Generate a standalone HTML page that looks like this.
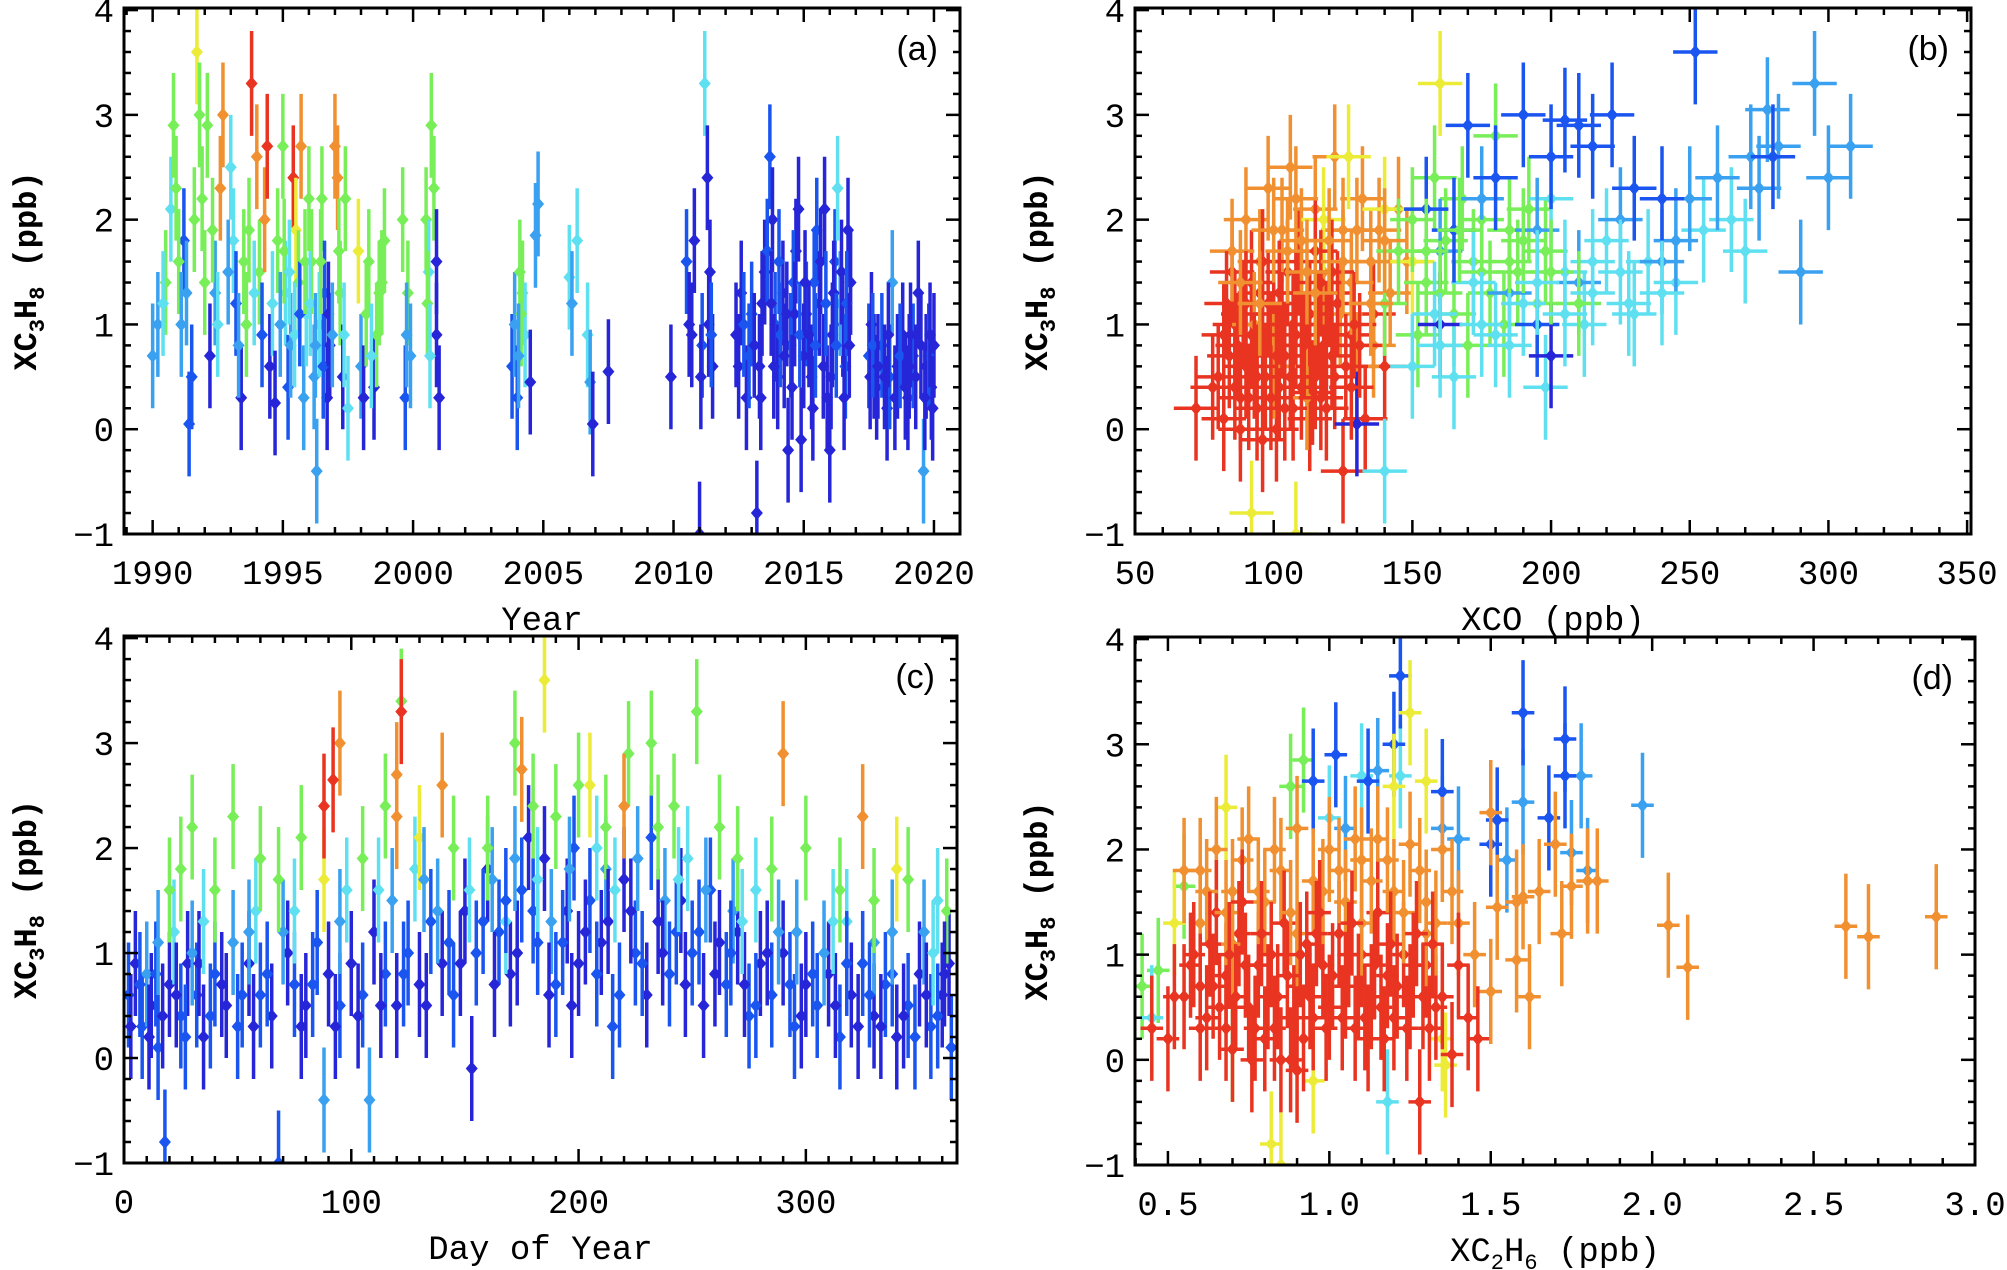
<!DOCTYPE html>
<html><head><meta charset="utf-8"><style>
html,body{margin:0;padding:0;background:#fff;}
svg{display:block;}
.tk{font-family:"Liberation Mono",monospace;font-size:34px;fill:#000;}
.tt{font-family:"Liberation Mono",monospace;font-size:34px;fill:#000;}
.yt{font-family:"Liberation Mono",monospace;font-size:32px;font-weight:bold;fill:#000;}
.pl{font-family:"Liberation Sans",sans-serif;font-size:34px;fill:#000;}
</style></head><body>
<svg id="fig" width="2007" height="1270" viewBox="0 0 2007 1270" xmlns="http://www.w3.org/2000/svg"></svg>
<script>
const palette=["#2626d8","#1a55f0","#3aa0f0","#5ee0f0","#78ee58","#ecec38","#f09030","#e83420"];
const aPts=[[1990.0,0.7,2],[1990.2,1.0,2],[1990.5,1.4,4],[1990.7,2.1,3],[1990.8,2.9,4],[1990.9,2.3,4],[1991.2,1.8,1],[1991.3,1.3,2],[1991.4,0.05,1],[1991.5,0.5,1],[1991.6,2.0,4],[1991.7,3.6,5],[1991.8,3.0,4],[1991.9,2.2,4],[1992.0,1.4,4],[1992.1,2.9,4],[1992.2,0.7,0],[1992.4,1.3,2],[1992.6,2.3,6],[1992.7,3.0,6],[1993.0,2.5,3],[1993.1,1.8,3],[1993.2,1.2,1],[1993.4,0.3,0],[1993.5,1.6,4],[1993.6,1.0,4],[1993.8,3.3,7],[1994.0,2.6,6],[1994.1,1.5,4],[1994.2,0.9,1],[1994.3,2.0,6],[1994.4,2.7,7],[1994.5,0.6,0],[1994.6,1.2,3],[1994.7,0.25,0],[1994.8,1.8,4],[1995.0,2.7,4],[1995.1,1.3,3],[1995.2,0.4,1],[1995.3,0.8,2],[1995.4,2.4,7],[1995.5,1.9,5],[1995.6,1.4,4],[1995.7,2.7,6],[1995.8,0.3,2],[1995.9,1.1,3],[1996.0,2.2,4],[1996.1,1.6,4],[1996.2,0.5,2],[1996.3,-0.4,2],[1996.4,1.0,3],[1996.5,2.2,4],[1996.6,1.3,1],[1996.7,0.3,0],[1996.8,0.8,0],[1997.0,2.7,6],[1997.1,2.4,6],[1997.2,1.3,4],[1997.3,0.5,0],[1997.4,2.2,4],[1997.5,0.2,3],[1997.9,1.7,5],[1998.0,0.6,2],[1998.1,0.3,0],[1998.2,1.1,4],[1998.3,1.6,4],[1998.5,0.4,0],[1998.6,0.9,4],[1998.7,1.3,4],[1998.9,1.8,4],[1999.6,2.0,4],[1999.7,0.3,1],[1999.8,1.3,4],[1999.9,0.7,2],[2000.5,2.0,4],[2000.6,1.5,3],[2000.7,2.9,4],[2000.8,2.3,4],[2000.9,1.6,0],[2001.0,0.3,0],[2000.9,0.9,0],[2003.8,0.6,1],[2003.9,1.0,2],[2004.0,0.3,1],[2004.1,1.5,4],[2004.2,1.3,4],[2004.3,0.9,3],[2004.5,0.45,0],[2004.7,1.85,2],[2004.8,2.15,2],[2006.0,1.45,3],[2006.1,1.2,2],[2006.3,1.8,3],[2006.7,0.9,3],[2006.8,0.45,2],[2006.9,0.05,0],[2007.5,0.55,0],[2009.9,0.5,0],[2010.5,1.6,1],[2010.6,1.0,0],[2010.8,1.8,0],[2011.0,-1.0,0],[2011.1,0.8,1],[2011.2,3.3,3],[2011.3,2.4,0],[2011.4,1.5,0],[2011.5,0.6,0],[2012.4,0.9,0],[2012.6,1.3,0],[2012.8,0.3,0],[2013.0,1.1,1],[2013.2,-0.8,0],[2013.3,0.6,0],[2013.5,1.5,0],[2013.7,2.6,1],[2013.8,2.0,0],[2013.9,1.0,1],[2014.0,0.5,0],[2014.2,1.3,0],[2014.4,-0.2,0],[2014.5,0.8,1],[2014.7,1.7,0],[2014.8,2.1,0],[2014.9,-0.1,0],[2015.1,1.1,1],[2015.3,0.5,0],[2015.5,1.9,1],[2015.6,1.2,0],[2015.8,2.1,0],[2015.9,0.3,0],[2016.0,-0.2,0],[2016.2,1.6,1],[2016.3,2.3,3],[2016.5,1.0,0],[2016.6,0.6,1],[2016.7,1.9,0],[2016.8,1.4,0],[2017.5,0.7,1],[2017.6,1.0,0],[2017.8,0.4,0],[2018.0,0.8,1],[2018.2,0.2,0],[2018.4,1.4,2],[2018.6,0.6,0],[2018.8,0.9,0],[2019.0,0.3,0],[2019.2,0.7,1],[2019.4,1.3,0],[2019.6,-0.4,2],[2019.7,0.6,0],[2019.9,0.4,0],[2020.0,0.8,0],[2012.9,0.7,1],[2013.4,1.2,0],[2014.1,0.9,1],[2014.6,1.4,1],[2015.0,0.7,0],[2015.4,1.4,1],[2016.1,0.9,0],[2016.4,1.2,2],[2017.7,0.6,0],[2018.3,0.5,1],[2019.1,0.9,0],[2019.8,0.7,1]];
const aPtsExtra=[[1990.4,1.2,3],[1991.0,1.6,4],[1991.1,1.0,2],[1992.3,1.9,4],[1992.5,1.0,3],[1992.9,1.5,2],[1993.3,0.8,2],[1993.7,1.9,4],[1993.9,1.3,3],[1994.9,1.0,2],[1995.05,1.7,4],[1995.25,1.5,3],[1995.45,0.9,3],[1995.65,1.1,1],[1995.85,1.6,4],[1996.05,1.2,3],[1996.25,0.8,2],[1996.45,1.6,4],[1996.55,0.6,1],[1996.75,1.1,0],[1996.9,0.9,2],[1997.15,1.7,4],[1997.35,0.9,3],[1998.4,0.7,3],[1998.8,1.4,4],[1999.75,0.9,2],[2000.55,1.2,4],[2000.65,0.7,3],[2004.15,1.1,4],[2004.05,0.7,2],[2012.5,0.6,0],[2012.7,1.0,1],[2013.1,0.8,0],[2013.35,0.3,0],[2013.6,1.7,1],[2013.75,1.2,0],[2013.85,0.6,0],[2014.05,1.6,1],[2014.25,0.7,0],[2014.35,1.1,0],[2014.55,0.4,0],[2014.65,1.1,0],[2014.85,0.9,1],[2015.05,1.4,0],[2015.2,0.9,0],[2015.35,0.2,0],[2015.45,0.8,1],[2015.65,1.6,0],[2015.75,0.6,0],[2015.85,1.2,1],[2016.05,0.5,0],[2016.15,1.3,0],[2016.25,0.8,1],[2016.45,1.5,0],[2016.55,0.3,0],[2016.65,1.2,1],[2016.75,0.8,0],[2017.55,0.5,0],[2017.65,0.8,1],[2017.85,0.6,0],[2018.1,0.5,0],[2018.25,0.9,0],[2018.5,0.3,0],[2018.7,0.7,1],[2018.9,0.4,0],[2019.05,0.6,0],[2019.3,0.5,0],[2019.5,0.8,0],[2019.65,0.3,0],[2019.85,0.9,0],[2019.95,0.2,0],[2011.05,0.5,0],[2011.35,1.0,0],[2011.45,0.9,1],[2010.7,0.9,0]];
const bPts=[[72,0.2,7],[78,0.4,7],[82,0.1,7],[84,0.7,7],[86,1.0,7],[88,0.3,7],[90,0.6,7],[92,0.9,7],[94,0.2,7],[95,1.3,7],[97,0.5,7],[99,0.8,7],[100,1.1,7],[102,0.4,7],[104,0.7,7],[105,1.5,7],[107,0.2,7],[108,0.9,7],[110,1.2,7],[112,0.6,7],[114,0.35,7],[116,1.0,7],[118,0.8,7],[120,1.3,7],[122,0.5,7],[125,-0.4,7],[128,0.9,7],[133,0.1,7],[136,1.1,7],[140,0.6,7],[88,0.0,7],[92,1.4,7],[96,-0.1,7],[101,0.0,7],[109,1.6,7],[113,0.1,7],[85,1.5,7],[119,0.2,7],[85,1.7,6],[90,2.0,6],[95,1.6,6],[98,2.3,6],[103,1.9,6],[106,2.5,6],[110,1.8,6],[115,2.1,6],[118,1.5,6],[122,2.6,6],[125,1.9,6],[128,1.4,6],[132,2.2,6],[135,1.6,6],[138,1.9,6],[142,1.3,6],[145,2.1,6],[148,1.6,6],[100,0.6,6],[112,0.3,6],[124,1.1,6],[136,0.8,6],[93,1.0,6],[130,0.6,6],[92,-0.8,5],[108,-1.0,5],[118,2.0,5],[127,2.6,5],[140,2.1,5],[160,3.3,5],[150,1.6,5],[140,1.2,4],[145,1.7,4],[150,2.0,4],[155,1.4,4],[158,2.4,4],[162,1.8,4],[165,1.1,4],[168,2.2,4],[172,1.6,4],[175,2.0,4],[178,1.3,4],[180,2.8,4],[185,1.9,4],[188,1.5,4],[192,2.1,4],[195,1.2,4],[198,1.7,4],[152,0.9,4],[170,0.8,4],[183,1.0,4],[150,0.6,3],[158,1.1,3],[165,0.5,3],[172,1.4,3],[180,0.9,3],[190,1.2,3],[198,0.4,3],[205,1.5,3],[212,1.0,3],[220,1.8,3],[228,1.2,3],[235,1.6,3],[245,1.4,3],[255,1.9,3],[265,2.0,3],[270,1.7,3],[200,2.2,3],[215,1.6,3],[140,-0.4,3],[230,1.1,3],[160,1.7,2],[175,2.2,2],[185,1.3,2],[195,1.9,2],[210,1.4,2],[225,2.0,2],[240,1.6,2],[250,2.2,2],[260,2.4,2],[272,2.6,2],[278,3.05,2],[282,2.7,2],[290,1.5,2],[295,3.3,2],[300,2.4,2],[308,2.7,2],[275,2.3,2],[245,1.8,2],[155,2.1,1],[170,2.9,1],[190,3.0,1],[205,2.95,1],[210,2.9,1],[215,2.7,1],[222,3.0,1],[240,2.2,1],[252,3.6,1],[280,2.6,1],[200,2.6,1],[180,2.4,1],[165,1.9,1],[195,1.0,1],[230,2.3,1],[130,0.05,0],[200,0.7,0],[160,1.0,0]];
const bPtsExtra=[[80,0.5,7],[83,1.2,7],[87,0.8,7],[89,1.1,7],[91,0.3,7],[93,0.6,7],[96,0.9,7],[98,1.2,7],[101,0.7,7],[103,1.0,7],[106,0.5,7],[108,1.3,7],[111,0.8,7],[113,1.1,7],[115,0.5,7],[117,1.4,7],[119,0.9,7],[121,0.7,7],[123,1.2,7],[126,0.6,7],[129,1.0,7],[131,0.8,7],[96,1.6,7],[104,0.2,7],[90,1.2,7],[99,0.3,7],[110,0.4,7],[115,1.7,7],[82,0.9,7],[94,0.5,7],[107,1.0,7],[121,1.5,7],[86,0.4,7],[102,1.3,7],[117,0.3,7],[128,0.4,7],[95,1.2,6],[105,1.7,6],[115,1.3,6],[125,1.6,6],[135,1.2,6],[108,2.2,6],[120,1.8,6],[140,1.8,6],[100,1.9,6],[130,1.9,6],[88,1.4,6],[112,1.5,6],[160,1.3,4],[175,1.5,4],[185,1.6,4],[167,1.9,4],[190,1.8,4],[200,1.5,4],[210,1.2,4],[155,1.7,4],[175,1.0,3],[185,0.8,3],[195,1.4,3],[205,1.1,3],[215,1.3,3],[225,1.5,3],[240,1.3,3],[160,0.8,3]];
const cPts=[[2,0.6,1],[5,0.9,0],[8,0.3,1],[12,0.5,0],[15,0.1,1],[18,-0.8,1],[20,0.7,0],[25,0.4,1],[28,0.9,0],[32,0.6,1],[35,0.2,0],[40,0.8,1],[45,0.5,0],[50,0.3,1],[55,0.9,0],[60,0.6,1],[65,0.4,0],[68,-1.0,1],[72,1.0,0],[75,0.7,1],[80,0.5,0],[85,1.1,1],[90,0.8,0],[95,0.5,1],[100,0.9,0],[105,0.6,1],[110,1.2,0],[115,0.8,1],[120,0.5,0],[125,1.0,1],[130,0.7,0],[135,1.3,1],[140,0.9,0],[145,0.6,1],[150,1.4,0],[153,-0.1,0],[155,1.0,1],[160,1.8,0],[165,1.2,1],[170,0.8,0],[175,1.6,1],[178,2.1,0],[182,1.1,1],[185,1.9,0],[190,0.7,1],[195,1.4,0],[198,2.0,1],[200,0.9,0],[205,1.5,1],[210,1.1,0],[215,0.3,1],[220,1.7,0],[225,1.0,1],[230,0.6,0],[232,2.1,1],[235,1.3,0],[240,0.8,1],[245,1.5,0],[250,1.0,1],[255,0.5,0],[258,1.6,1],[262,1.1,0],[265,0.7,1],[270,1.2,0],[275,0.4,1],[280,0.9,0],[285,0.6,1],[290,1.0,0],[295,0.3,1],[300,0.7,0],[305,0.5,1],[310,0.8,0],[315,0.2,1],[320,0.6,0],[325,0.9,1],[330,0.4,0],[335,0.7,1],[340,0.2,0],[345,0.5,1],[350,0.8,0],[355,0.3,1],[360,0.6,0],[364,0.1,1],[363,0.9,0],[10,0.8,2],[30,1.0,2],[48,1.1,2],[70,1.2,2],[88,-0.4,2],[108,-0.4,2],[118,1.5,2],[138,1.4,2],[162,1.7,2],[188,1.3,2],[212,1.8,2],[238,1.5,2],[268,1.4,2],[288,1.2,2],[308,1.0,2],[330,1.1,2],[352,1.2,2],[22,1.2,3],[58,1.4,3],[98,1.6,3],[128,1.8,3],[168,1.3,3],[208,2.0,3],[248,1.9,3],[278,1.6,3],[318,1.3,3],[358,1.5,3],[25,1.8,4],[30,2.2,4],[40,1.6,4],[48,2.3,4],[60,1.9,4],[78,2.1,4],[115,2.4,4],[122,3.4,4],[145,2.0,4],[172,3.0,4],[190,2.3,4],[200,2.6,4],[212,2.2,4],[222,2.9,4],[232,3.0,4],[242,2.4,4],[252,3.3,4],[262,2.2,4],[285,1.8,4],[300,2.0,4],[315,1.6,4],[345,1.7,4],[362,1.4,4],[88,1.7,5],[130,2.1,5],[185,3.6,5],[205,2.6,5],[340,1.8,5],[95,3.0,6],[120,2.7,6],[140,2.6,6],[175,2.75,6],[220,2.4,6],[290,2.9,6],[325,2.3,6],[120,2.3,6],[88,2.4,7],[92,2.65,7],[122,3.3,7]];
const cPtsExtra=[[3,0.3,0],[7,0.7,1],[11,0.2,0],[14,0.8,1],[17,0.4,0],[23,0.6,0],[27,0.2,1],[33,0.9,0],[38,0.4,1],[43,0.7,0],[52,0.6,1],[57,0.3,0],[63,0.8,1],[78,0.3,0],[83,0.7,1],[93,0.3,0],[103,0.4,0],[113,0.5,0],[123,0.8,1],[133,0.5,0],[143,1.1,1],[148,0.9,0],[158,1.3,1],[163,0.7,0],[168,1.5,1],[173,1.0,0],[180,1.4,1],[187,0.6,0],[193,1.1,1],[197,0.5,0],[203,1.2,0],[208,0.8,1],[213,1.3,0],[218,0.6,1],[223,1.4,0],[228,0.9,1],[237,1.0,0],[243,1.2,1],[247,0.7,0],[253,1.2,1],[260,0.8,0],[267,1.0,1],[273,0.7,0],[278,0.5,1],[283,1.0,0],[293,0.7,1],[298,0.4,0],[303,0.8,1],[313,0.5,0],[318,0.9,1],[323,0.3,0],[328,0.6,1],[333,0.3,0],[338,0.8,1],[343,0.4,0],[348,0.2,1],[353,0.6,0],[358,0.4,1],[361,0.8,0],[15,1.1,2],[35,1.3,3],[55,1.2,2],[75,1.4,3],[95,1.3,2],[112,1.6,3],[132,1.7,2],[152,1.6,3],[172,1.9,2],[182,1.7,3],[196,1.8,2],[216,1.6,3],[226,1.9,2],[244,1.7,3],[256,1.6,2],[272,1.3,3],[296,1.2,2],[312,1.3,3],[338,1.2,2],[356,1.0,3],[20,1.6,4],[68,1.7,4],[105,1.9,4],[160,2.0,4],[180,2.4,4],[235,2.2,4],[270,1.9,4],[330,1.5,4]];
const dPts=[[0.42,0.7,4],[0.47,0.85,4],[0.55,1.65,4],[0.88,2.6,4],[0.92,2.85,4],[0.7,0.1,4],[0.45,0.4,3],[1.1,2.7,3],[1.18,-0.4,3],[1.22,2.7,3],[1.0,2.3,3],[1.05,2.2,2],[1.15,2.75,2],[1.35,2.2,2],[1.4,2.1,2],[1.55,1.9,2],[1.6,2.45,2],[1.75,1.97,2],[1.78,2.7,2],[1.97,2.42,2],[1.8,1.8,2],[0.95,2.65,1],[1.02,2.9,1],[1.12,2.65,1],[1.2,3.0,1],[1.22,3.65,1],[1.35,2.55,1],[1.5,2.05,1],[1.6,3.3,1],[1.73,3.05,1],[1.73,2.7,1],[1.68,2.3,1],[1.52,2.28,1],[0.52,1.3,5],[0.68,2.4,5],[0.82,-0.8,5],[0.85,-1.0,5],[0.95,-0.2,5],[1.2,2.6,5],[1.25,3.3,5],[1.3,2.65,5],[1.35,0.2,5],[1.36,-0.05,5],[1.1,1.9,5],[0.55,1.8,6],[0.6,1.3,6],[0.65,2.0,6],[0.7,1.6,6],[0.75,2.1,6],[0.8,1.5,6],[0.85,1.8,6],[0.9,2.2,6],[0.95,1.7,6],[1.0,2.0,6],[1.05,1.5,6],[1.1,1.9,6],[1.15,2.1,6],[1.2,1.6,6],[1.25,2.05,6],[1.3,1.5,6],[1.35,2.0,6],[1.4,1.3,6],[1.5,2.35,6],[1.52,1.45,6],[1.58,1.5,6],[1.6,1.55,6],[1.65,1.6,6],[1.7,2.05,6],[1.72,1.2,6],[1.75,1.65,6],[1.8,1.7,6],[1.83,1.7,6],[1.58,0.95,6],[1.62,0.6,6],[1.5,0.65,6],[2.05,1.28,6],[2.11,0.88,6],[2.6,1.27,6],[2.67,1.17,6],[2.88,1.36,6],[1.45,1.0,6],[0.45,0.3,7],[0.5,0.2,7],[0.55,0.6,7],[0.58,1.0,7],[0.62,0.4,7],[0.65,1.4,7],[0.68,0.8,7],[0.7,0.1,7],[0.72,1.2,7],[0.75,0.5,7],[0.78,0.9,7],[0.8,0.2,7],[0.82,1.0,7],[0.84,0.6,7],[0.86,1.3,7],[0.88,0.0,7],[0.9,0.7,7],[0.93,1.1,7],[0.95,0.4,7],[0.98,0.9,7],[1.0,0.5,7],[1.03,1.2,7],[1.05,0.7,7],[1.08,0.3,7],[1.1,1.0,7],[1.13,0.6,7],[1.15,1.4,7],[1.18,0.8,7],[1.2,0.4,7],[1.23,1.0,7],[1.25,0.6,7],[1.28,-0.4,7],[1.3,0.9,7],[1.33,0.5,7],[1.38,0.05,7],[1.4,0.9,7],[1.43,0.4,7],[1.46,0.2,7],[1.35,0.6,7],[0.6,0.7,7],[0.76,0.0,7],[0.92,0.2,7],[1.12,0.2,7],[0.68,0.3,7]];
const dPtsExtra=[[0.6,1.8,6],[0.68,1.4,6],[0.73,1.9,6],[0.78,1.6,6],[0.83,2.0,6],[0.88,1.4,6],[0.98,1.6,6],[1.03,1.8,6],[1.08,2.1,6],[1.13,1.7,6],[1.18,1.9,6],[1.23,1.4,6],[1.28,1.8,6],[1.33,1.3,6],[0.7,1.1,6],[0.9,1.2,6],[1.1,1.3,6],[1.3,1.2,6],[1.38,1.6,6],[0.62,1.6,6],[0.52,0.6,7],[0.57,0.9,7],[0.6,0.3,7],[0.63,1.1,7],[0.66,0.5,7],[0.69,1.0,7],[0.71,0.6,7],[0.74,0.9,7],[0.77,0.3,7],[0.79,1.2,7],[0.81,0.6,7],[0.83,0.3,7],[0.87,0.8,7],[0.89,0.4,7],[0.91,1.0,7],[0.94,0.6,7],[0.96,1.2,7],[0.99,0.3,7],[1.01,0.8,7],[1.04,0.4,7],[1.06,1.0,7],[1.09,0.7,7],[1.11,0.4,7],[1.14,0.9,7],[1.16,0.5,7],[1.19,1.1,7],[1.21,0.7,7],[1.24,0.3,7],[1.26,0.9,7],[1.29,0.6,7],[1.31,0.3,7],[1.32,1.1,7],[0.85,0.0,7],[0.9,-0.1,7],[0.97,1.4,7],[1.07,1.3,7],[0.73,1.5,7],[0.64,0.7,7],[1.17,0.2,7],[1.27,1.2,7]];
const yTicks=[-1,0,1,2,3,4];
const aXTicks=[1990,1995,2000,2005,2010,2015,2020];
const bXTicks=[50,100,150,200,250,300,350];
const cXTicks=[0,100,200,300];
const dXTicks=["0.5","1.0","1.5","2.0","2.5","3.0"];

const NS="http://www.w3.org/2000/svg";
const svg=document.getElementById('fig');
function mk(tag,attrs,parent){const e=document.createElementNS(NS,tag);for(const k in attrs)e.setAttribute(k,attrs[k]);(parent||svg).appendChild(e);return e;}

function panel(o){
  const g=mk('g',{});
  
  
  const sx=v=>o.L+(v-o.x0)/(o.x1-o.x0)*(o.R-o.L);
  const sy=v=>o.B-(v-(-1))/(4.02-(-1))*(o.B-o.T);
  const clip='clip-'+o.name;
  const cp=mk('clipPath',{id:clip},g);mk('rect',{x:o.L,y:o.T,width:o.R-o.L,height:o.B-o.T},cp);
  const pg=mk('g',{'clip-path':'url(#'+clip+')'},g);
  
  
  o.pts.forEach(p=>{
    const x=sx(p[0]),y=sy(p[1]),col=palette[p[2]];
    const pt=mk('g',{stroke:col,fill:col,'stroke-width':3.5},pg);
    
    
    mk('line',{x1:x,x2:x,y1:sy(p[1]-o.ey),y2:sy(p[1]+o.ey)},pt);
    if(o.ex){mk('line',{x1:sx(p[0]-o.ex),x2:sx(p[0]+o.ex),y1:y,y2:y},pt);}
    mk('path',{d:`M${x} ${y-7}L${x+6} ${y}L${x} ${y+7}L${x-6} ${y}Z`,stroke:'none'},pt);
  });
  mk('rect',{x:o.L,y:o.T,width:o.R-o.L,height:o.B-o.T,fill:'none',stroke:'#000','stroke-width':3},g);
  for(let v=o.minStart;v<=o.x1+1e-9;v+=o.minor){
    const x=sx(v);if(x<o.L-0.5||x>o.R+0.5)continue;
    const isMaj=Math.abs(((v-o.majStart)/o.major)-Math.round((v-o.majStart)/o.major))<1e-6;
    const len=isMaj?14:7;
    mk('line',{x1:x,x2:x,y1:o.B,y2:o.B-len,stroke:'#000','stroke-width':2.5},g);
    mk('line',{x1:x,x2:x,y1:o.T,y2:o.T+len,stroke:'#000','stroke-width':2.5},g);
  }
  for(let v=-1;v<=4.02;v+=0.2){
    const y=sy(v);const isMaj=Math.abs(v-Math.round(v))<1e-6;const len=isMaj?14:7;
    mk('line',{x1:o.L,x2:o.L+len,y1:y,y2:y,stroke:'#000','stroke-width':2.5},g);
    mk('line',{x1:o.R,x2:o.R-len,y1:y,y2:y,stroke:'#000','stroke-width':2.5},g);
  }
  o.xt.forEach(t=>{
    const e=mk('text',{x:sx(parseFloat(t)),y:o.B+50,'text-anchor':'middle',class:'tk'},g);
    e.textContent=t;
    
    
  });
  yTicks.forEach(t=>{
    const e=mk('text',{x:o.L-10,y:sy(t)+12,'text-anchor':'end',class:'tk'},g);
    e.textContent=t<0?'\u2212'+Math.abs(t):String(t);
    
    
  });
  const xt=mk('text',{x:(o.L+o.R)/2,y:o.B+96,'text-anchor':'middle',class:'tt'},g);
  xt.innerHTML=o.xtitle;
  
  
  const cy=(o.T+o.B)/2;
  const yt=mk('text',{x:0,y:0,'text-anchor':'middle',class:'yt',transform:`translate(${o.L-88},${cy}) rotate(-90)`},g);
  yt.innerHTML='XC<tspan font-size="22" dy="8">3</tspan><tspan dy="-8">H</tspan><tspan font-size="22" dy="8">8</tspan><tspan dy="-8"> (ppb)</tspan>';
  
  
  const pl=mk('text',{x:o.R-22,y:o.T+52,'text-anchor':'end',class:'pl'},g);
  pl.textContent=o.label;
  
  
}
panel({name:'panel-a',L:124,R:960,T:8,B:534,x0:1988.9,x1:2021.0,pts:aPts.concat(aPtsExtra),ey:0.5,ex:0,minor:1,minStart:1989,major:5,majStart:1990,xt:aXTicks.map(String),xtitle:'Year',label:'(a)'});
panel({name:'panel-b',L:1135,R:1971,T:8,B:534,x0:50,x1:351.4,pts:bPts.concat(bPtsExtra),ey:0.5,ex:8,minor:10,minStart:50,major:50,majStart:50,xt:bXTicks.map(String),xtitle:'XCO (ppb)',label:'(b)'});
panel({name:'panel-c',L:124,R:957,T:636,B:1163,x0:0,x1:366.5,pts:cPts.concat(cPtsExtra),ey:0.5,ex:0,minor:10,minStart:0,major:100,majStart:0,xt:cXTicks.map(String),xtitle:'Day of Year',label:'(c)'});
panel({name:'panel-d',L:1135,R:1975,T:637,B:1165,x0:0.398,x1:3.0,pts:dPts.concat(dPtsExtra),ey:0.5,ex:0.035,minor:0.1,minStart:0.4,major:0.5,majStart:0.5,xt:dXTicks,xtitle:'XC<tspan font-size="22" dy="8">2</tspan><tspan dy="-8">H</tspan><tspan font-size="22" dy="8">6</tspan><tspan dy="-8"> (ppb)</tspan>',label:'(d)'});
</script>
</body></html>
